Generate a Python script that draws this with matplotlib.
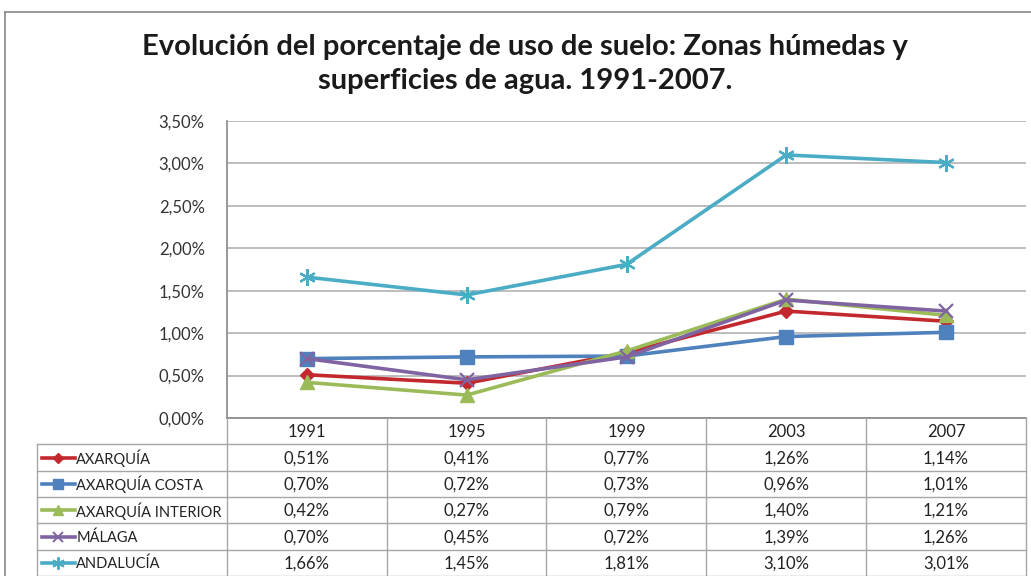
import matplotlib
matplotlib.use("Agg")
import matplotlib.pyplot as plt
from matplotlib.lines import Line2D
from matplotlib import font_manager

years = ["1991", "1995", "1999", "2003", "2007"]
series_names = ["AXARQUÍA", "AXARQUÍA COSTA", "AXARQUÍA INTERIOR", "MÁLAGA", "ANDALUCÍA"]
axarquia = [0.51, 0.41, 0.77, 1.26, 1.14]
axarquia_costa = [0.70, 0.72, 0.73, 0.96, 1.01]
axarquia_interior = [0.42, 0.27, 0.79, 1.40, 1.21]
malaga = [0.70, 0.45, 0.72, 1.39, 1.26]
andalucia = [1.66, 1.45, 1.81, 3.10, 3.01]
yticks = [0.0, 0.5, 1.0, 1.5, 2.0, 2.5, 3.0, 3.5]
title = "Evolución del porcentaje de uso de suelo: Zonas húmedas y\nsuperficies de agua. 1991-2007."

series = [axarquia, axarquia_costa, axarquia_interior, malaga, andalucia]
colors = ["#C3282E", "#4F81BD", "#9BBB59", "#8064A2", "#4BACC6"]
markers = ["D", "s", "^", "x", (6, 2, 0)]
msizes = [7, 10, 10, 10, 12]

plt.rcParams['font.family'] = ['Lato', 'DejaVu Sans']
names = {f.name for f in font_manager.fontManager.ttflist}
title_font = ['Liberation Sans Narrow'] if 'Liberation Sans Narrow' in names else ['Lato']

W, H = 1031, 576
fig = plt.figure(figsize=(W / 100, H / 100), dpi=100)

def px(x0, y0, x1, y1):
    return [x0 / W, 1 - y1 / H, (x1 - x0) / W, (y1 - y0) / H]

# outer chart border
fig.add_artist(Line2D([5 / W, 5 / W], [0, 1 - 12 / H], color="#878787", lw=1.2))
fig.add_artist(Line2D([5 / W, 1], [1 - 12 / H, 1 - 12 / H], color="#878787", lw=1.2))

fig.text(525 / W, 1 - 64 / H, title, ha="center", va="center", fontsize=21,
         fontweight="bold", color="#1a1a1a", linespacing=1.35, family=title_font)

ax = fig.add_axes(px(227, 121, 1026, 418))
ax.set_xlim(-0.5, 4.5)
ax.set_ylim(0, 3.5)
ax.set_yticks(yticks)
ax.set_yticklabels([f"{v:.2f}%".replace(".", ",") for v in yticks], fontsize=12, color="#333333")
ax.set_xticks([])
ax.yaxis.grid(True, color="#B8B8B8", lw=1.3)
ax.set_axisbelow(True)
for s in ["top", "right", "bottom"]:
    ax.spines[s].set_visible(False)
ax.spines["left"].set_color("#878787")
ax.spines["left"].set_linewidth(1.2)
ax.tick_params(axis="y", length=0, pad=16)

xs = list(range(len(years)))
for vals, c, m, ms in zip(series, colors, markers, msizes):
    mew = 1.6 if m in ("x", (6, 2, 0)) else 1
    ax.plot(xs, vals, color=c, lw=2.6, marker=m, markersize=ms, markeredgewidth=mew,
            markeredgecolor=c, markerfacecolor=c, clip_on=False, zorder=3)

# data table
label_w = 190 / 160
tab = fig.add_axes(px(37, 418, 1026, 576))
tab.set_xlim(-0.5 - label_w, 4.5)
tab.set_ylim(6, 0)
tab.axis("off")
gc = "#A6A6A6"
lw = 1.0
tab.plot([-0.5, 4.5], [0, 0], color="#878787", lw=1.2, clip_on=False)
for r in range(1, 7):
    tab.plot([-0.5 - label_w, 4.5], [r, r], color=gc, lw=lw, clip_on=False)
tab.plot([-0.5 - label_w, -0.5 - label_w], [1, 6.2], color=gc, lw=lw, clip_on=False)
for i in range(6):
    tab.plot([i - 0.5, i - 0.5], [0, 6.2], color=gc, lw=lw, clip_on=False)
for i, y in enumerate(years):
    tab.text(i, 0.55, y, ha="center", va="center", fontsize=12, color="#222222")
for r, (name, vals, c, m, ms) in enumerate(zip(series_names, series, colors, markers, msizes)):
    yy = r + 1.5
    x0 = -0.5 - label_w + 0.03
    x1 = x0 + 33 / 160
    tab.plot([x0, x1], [yy, yy], color=c, lw=2.6, clip_on=False)
    mew = 1.4 if m in ("x", (6, 2, 0)) else 1
    tab.plot([(x0 + x1) / 2], [yy], marker=m, color=c, markersize=ms * 0.75, markeredgewidth=mew, clip_on=False)
    tab.text(x1 + 0.01, yy + 0.03, name, ha="left", va="center", fontsize=10.5, color="#222222")
    for i, v in enumerate(vals):
        tab.text(i, yy + 0.03, f"{v:.2f}%".replace(".", ","), ha="center", va="center", fontsize=12, color="#222222")

fig.savefig("out.png", dpi=100)
